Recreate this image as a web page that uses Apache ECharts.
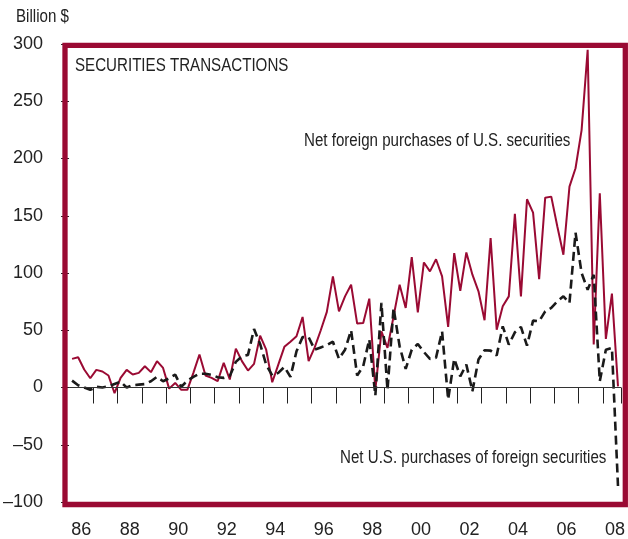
<!DOCTYPE html>
<html>
<head>
<meta charset="utf-8">
<script src="https://cdn.jsdelivr.net/npm/echarts@6/dist/echarts.min.js"></script>
<style>
  html, body { margin: 0; padding: 0; background: #fff; }
  #main { width: 628px; height: 539px; }
</style>
</head>
<body>
<div id="main"></div>
<script>
// quarterly, 1986 Q1 .. 2008 Q3
var quarters = [];
for (var y = 1986; y <= 2008; y++) {
    for (var q = 1; q <= 4; q++) quarters.push(y + 'Q' + q);
}
quarters = quarters.slice(0, 91);

var foreignBuyUS = [
    25, 26.4, 15.7, 8.1, 15.4, 14, 10.5, -5, 8.4, 15.4,
    11.3, 12.8, 18.6, 13.4, 23, 17.1, -1, 4, -2, -2,
    12.8, 28.8, 10.5, 8.4, 5.5, 21.5, 7, 34, 23, 14.8,
    20.6, 45.3, 33, 4.6, 20, 35.5, 40, 44.7, 61.6, 23,
    35, 50, 66, 97, 66.5, 79.6, 89.8, 55.8, 56.4, 77.6,
    -2, 49, 34.6, 62, 89.8, 69.5, 113.9, 65.6, 109.2, 101.4,
    112, 97, 52.9, 117.4, 84.5, 118, 98.5, 84, 58.7, 130.5,
    50.5, 70.9, 79.6, 151.6, 79.6, 164.4, 152.8, 94.7, 165.8, 166.7,
    140.6, 116, 175.4, 191.5, 224.8, 295, 37.5, 169.7, 42.4, 82,
    1
];

var usBuyForeign = [
    6, 2, 0, -2, 0.6, 0, 1, 3, 5, 0,
    2, 2.5, 3, 5.5, 9.3, 5.5, 8, 11.3, 0.5, 6,
    9.3, 12, 12, 11, 9, 8.4, 10, 22.4, 27.3, 28.5,
    51, 38, 20, 10.5, 12.8, 18, 9.3, 31.6, 44, 44,
    33, 35, 37, 40, 25, 33, 50, 10.5, 18.6, 42,
    -7, 74, -2.3, 69.5, 36, 16.3, 33, 38, 31, 25,
    26, 49, -10.5, 25, 9.8, 20, -3.2, 24.4, 32.5, 32.2,
    28, 53.4, 37.5, 48.2, 52.9, 36.6, 58.4, 57.8, 66.5, 69.5,
    75.2, 79.6, 73.8, 135.3, 100, 85.4, 98.5, 5.5, 33, 34.6,
    -86
];

var yearLabels = ['86', '88', '90', '92', '94', '96', '98', '00', '02', '04', '06', '08'];

var RED = '#9a0a33';
var FONT = "'Liberation Sans', Arial, sans-serif";

// narrow-looking text: regular face squeezed horizontally
function label(x, y, text) {
    return {
        type: 'text', x: x, y: y, scaleX: 0.84,
        style: { text: text, fontSize: 18, fontFamily: FONT, fill: '#222' }
    };
}

var myChart = echarts.init(document.getElementById('main'));
option = {
    animation: false,
    backgroundColor: '#fff',
    grid: {
        left: 68.7,
        right: 6.9,
        top: 44,
        bottom: 36.25
    },
    xAxis: {
        type: 'category',
        boundaryGap: true,
        data: quarters,
        axisLine: { show: false },
        axisTick: {
            show: true,
            length: 16,
            interval: function (idx) { return idx % 4 === 0 && idx > 0; },
            lineStyle: { color: '#222', width: 1 }
        },
        axisLabel: {
            interval: function (idx, val) {
                var y = parseInt(val, 10);
                return val.slice(4) === 'Q3' && y % 2 === 0;
            },
            formatter: function (val) {
                var yy = val.slice(2, 4);
                return yearLabels.indexOf(yy) >= 0 ? yy : '';
            },
            padding: [0, 6, 0, 0],
            margin: 19,
            color: '#222',
            fontSize: 18,
            fontFamily: FONT
        },
        splitLine: { show: false }
    },
    yAxis: {
        type: 'value',
        min: -100,
        max: 300,
        interval: 50,
        axisLine: { show: false },
        axisTick: { show: true, length: 8, lineStyle: { color: '#222' } },
        axisLabel: {
            margin: 26,
            color: '#222',
            fontSize: 18,
            fontFamily: FONT,
            formatter: function (v) { return String(v).replace('-', '\u2013'); }
        },
        splitLine: { show: false }
    },
    graphic: [
        {
            type: 'rect',
            z: 100,
            shape: { x: 65, y: 45.3, width: 560.3, height: 459.2 },
            style: { fill: 'none', stroke: RED, lineWidth: 5.3 }
        },
        label(16, 8, 'Billion $'),
        label(75, 57.5, 'SECURITIES TRANSACTIONS'),
        label(304, 132, 'Net foreign purchases of U.S. securities'),
        label(340, 449, 'Net U.S. purchases of foreign securities')
    ],
    series: [
        {
            name: 'Net foreign purchases of U.S. securities',
            type: 'line',
            data: foreignBuyUS,
            symbol: 'none',
            lineStyle: { color: RED, width: 2 },
            z: 3,
            markLine: {
                silent: true,
                symbol: 'none',
                label: { show: false },
                lineStyle: { color: '#333', width: 1.2, type: 'solid' },
                data: [{ yAxis: 0 }]
            }
        },
        {
            name: 'Net U.S. purchases of foreign securities',
            type: 'line',
            data: usBuyForeign,
            symbol: 'none',
            lineStyle: { color: '#1a1a1a', width: 2.6, type: [9, 5] },
            z: 4
        }
    ]
};
myChart.setOption(option);
</script>
</body>
</html>
